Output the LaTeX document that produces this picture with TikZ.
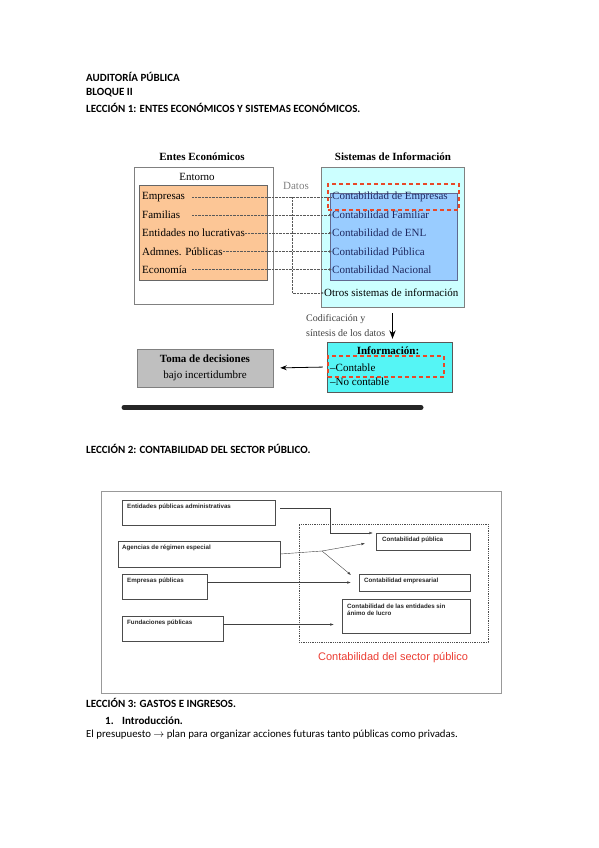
\documentclass[tikz,border=0pt]{standalone}
\usepackage{fontspec}
\setmainfont{Liberation Serif}
\newfontfamily\arialfnt{Liberation Sans}
\newfontfamily\calfnt{Carlito}
\usetikzlibrary{arrows.meta}
\definecolor{peach}{RGB}{252,198,150}
\definecolor{palecyan}{RGB}{204,255,255}
\definecolor{skyblue}{RGB}{153,204,255}
\definecolor{aqua}{RGB}{85,245,245}
\definecolor{boxgray}{RGB}{191,191,191}
\definecolor{dashred}{RGB}{232,72,40}
\definecolor{navy}{RGB}{30,40,95}
\definecolor{lblred}{RGB}{235,60,50}
\begin{document}
\begin{tikzpicture}[x=1pt, y=-1pt, >=Stealth,
  heading/.style={font=\calfnt\fontsize{11}{13}\selectfont\bfseries, anchor=west, inner sep=0pt},
  bodytext/.style={font=\calfnt\fontsize{10.8}{13}\selectfont, anchor=west, inner sep=0pt},
  serif/.style={font=\fontsize{11}{13}\selectfont, anchor=west, inner sep=0pt},
  sertitle/.style={font=\fontsize{11}{13}\selectfont\bfseries, inner sep=0pt},
  panel/.style={draw=gray, inner sep=0pt},
  reddash/.style={draw=dashred, very thick, dash pattern=on 4pt off 3pt, inner sep=0pt},
  dotline/.style={densely dotted, gray!70!black, -{Latex[length=3pt,width=2.4pt]}},
  smallbox/.style={draw=gray!60!black, inner sep=0pt},
  smalltext/.style={font=\arialfnt\fontsize{6.2}{7.5}\selectfont\bfseries, anchor=west, inner sep=0pt, text=black!85},
  conn/.style={black!75, -{Latex[length=3.5pt,width=2.6pt]}}]
\useasboundingbox (0,0) rectangle (599,848);

% Cabecera
\node[heading] (tit1) at (86,77) {AUDITORÍA PÚBLICA};
\node[heading] (tit2) at (86,93) {BLOQUE II};
\node[heading] (tit3) at (86,108) {LECCIÓN 1: ENTES ECONÓMICOS Y SISTEMAS ECONÓMICOS.};

% Entes economicos
\node[sertitle] (entesT) at (202,157) {Entes Económicos};
\node[panel, fill=white, minimum width=139, minimum height=137] (entorno) at (203.5,235.5) {};
\node[font=\fontsize{11}{13}\selectfont, inner sep=0pt] (entornoT) at (197,177) {Entorno};
\node[panel, draw=gray!80!black, fill=peach, minimum width=128, minimum height=95] (naranja) at (203,232.5) {};
\node[serif] (emp) at (142,197) {Empresas};
\node[serif] (fam) at (142,215) {Familias};
\node[serif] (ent) at (142,233) {Entidades no lucrativas};
\node[serif] (adm) at (142,251.5) {Admnes. Públicas};
\node[serif] (eco) at (142,269.5) {Economía};

% Sistemas de informacion
\node[sertitle] (sistT) at (393,157) {Sistemas de Información};
\node[panel, fill=palecyan, minimum width=143, minimum height=140] (sist) at (392.5,237) {};
\node[panel, draw=navy!70, fill=skyblue, minimum width=127, minimum height=87] (contab) at (393.5,236.5) {};
\node[serif, text=navy] (cemp) at (332,197) {Contabilidad de Empresas};
\node[serif, text=navy] (cfam) at (332,215) {Contabilidad Familiar};
\node[serif, text=navy] (cenl) at (332,233) {Contabilidad de ENL};
\node[serif, text=navy] (cpub1) at (332,251.5) {Contabilidad Pública};
\node[serif, text=navy] (cnac) at (332,269.5) {Contabilidad Nacional};
\node[serif] (otros) at (324,293) {Otros sistemas de información};
\node[reddash, minimum width=131, minimum height=26] (rojoA) at (393.5,197) {};

% Datos
\node[font=\fontsize{11}{13}\selectfont, text=gray, inner sep=0pt] (datos) at (296,186) {Datos};
\coordinate (dstart) at (192,0);
\coordinate (brtop) at (292,197);
\draw[densely dotted, gray!70!black] (emp.east -| dstart) -- (cemp.west);
\draw[dotline] (fam.east -| dstart) -- (cfam.west);
\draw[dotline] (ent.east) -- (cenl.west);
\draw[dotline] (adm.east) -- (cpub1.west);
\draw[dotline] (eco.east -| dstart) -- (cnac.west);
\draw[dotline] (brtop) |- (otros.west);

% Informacion
\node[panel, draw=gray!70!black, fill=aqua, minimum width=125, minimum height=50] (info) at (389.5,367) {};
\node[sertitle] (infoT) at (388,351) {Información:};
\node[serif] (contable) at (330,368) {--Contable};
\node[serif] (nocont) at (330,382) {--No contable};
\node[reddash, minimum width=116, minimum height=21] (rojoB) at (386,366.5) {};
\node[font=\fontsize{10}{15}\selectfont, align=left, anchor=west, inner sep=0pt, text=black!75] (codif) at (306,325.5) {Codificación y\\síntesis de los datos};
\draw[very thick, ->, shorten <=6pt, shorten >=3pt] (sist.south) -- (sist.south |- info.north);

% Toma de decisiones
\node[panel, fill=boxgray, minimum width=136, minimum height=38, align=center, font=\fontsize{11}{16}\selectfont] (toma) at (205,368) {\textbf{Toma de decisiones}\\bajo incertidumbre};
\draw[thick, ->, shorten <=4pt, shorten >=7pt] (info.west) -- (toma.east);
\draw[line width=5pt, line cap=round, black!85] (124,407.5) -- (421,407.5);

% Leccion 2
\node[heading] (tit4) at (86,449) {LECCIÓN 2: CONTABILIDAD DEL SECTOR PÚBLICO.};
\node[panel, draw=gray!80, minimum width=400, minimum height=202] (marco) at (301,592) {};
\node[smallbox, minimum width=153, minimum height=25] (epa) at (198.5,512.5) {};
\node[smalltext] (epaT) at (127,506.5) {Entidades públicas administrativas};
\node[smallbox, minimum width=162, minimum height=26] (are) at (199,554) {};
\node[smalltext] (areT) at (122,548) {Agencias de régimen especial};
\node[smallbox, minimum width=85, minimum height=25] (emp2) at (164.5,586.5) {};
\node[smalltext] (emp2T) at (127,581) {Empresas públicas};
\node[smallbox, minimum width=101, minimum height=25] (fun) at (172.5,628.5) {};
\node[smalltext] (funT) at (127,622.5) {Fundaciones públicas};
\node[draw=black!70, densely dotted, thick, minimum width=189, minimum height=118, inner sep=0pt] (sector) at (393.5,583) {};
\node[smallbox, minimum width=94, minimum height=17] (cpub) at (423,541.5) {};
\node[smalltext] (cpubT) at (382,540) {Contabilidad pública};
\node[smallbox, minimum width=111, minimum height=17] (cempr) at (414.5,582.5) {};
\node[smalltext] (cemprT) at (364,580.5) {Contabilidad empresarial};
\node[smallbox, minimum width=128, minimum height=34] (cesal) at (406,616) {};
\node[smalltext, anchor=north west, align=left] (cesalT) at (347,603.5) {Contabilidad de las entidades sin\\ánimo de lucro};
\node[font=\arialfnt\fontsize{11}{13}\selectfont, text=lblred, inner sep=0pt] (sectorT) at (393,658) {Contabilidad del sector público};

% Conectores
\coordinate (epaout) at (280,508);
\coordinate (epacod) at (330,533);
\coordinate (brk) at (322,551);
\coordinate (brkend) at (351,575);
\coordinate (emp2out) at ([yshift=4pt]emp2.east);
\coordinate (funout) at ([yshift=4pt]fun.east);
\draw[conn, shorten >=3pt] (epaout) -| (epacod) -- (epacod -| cpub.west);
\draw[black!75] (are.east) -- (brk);
\draw[conn, shorten >=11pt] (brk) -- (cpub.west);
\draw[conn] (brk) -- (brkend);
\draw[conn, shorten >=8pt] (emp2out) -- (emp2out -| cempr.west);
\draw[conn, shorten >=8pt] (funout) -- (funout -| cesal.west);

% Leccion 3
\node[heading] (tit5) at (86,703) {LECCIÓN 3: GASTOS E INGRESOS.};
\node[heading] (num1) at (105,721) {1.};
\node[heading] (intro) at (122,721) {Introducción.};
\node[bodytext] (pres) at (86,735) {El presupuesto $\rightarrow$ plan para organizar acciones futuras tanto públicas como privadas.};
\end{tikzpicture}
\end{document}
